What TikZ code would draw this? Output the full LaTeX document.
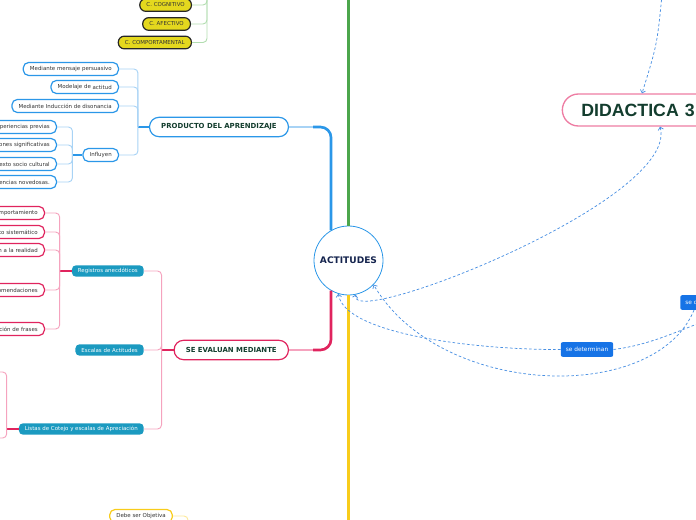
\documentclass[tikz,border=0pt]{standalone}
\usepackage{fontspec}
\setmainfont{DejaVu Sans}
\newfontfamily\didfont{Liberation Sans}
\usetikzlibrary{arrows.meta,calc}

\definecolor{brblue}{HTML}{2B97E8}
\definecolor{lnblue}{HTML}{A8D3F5}
\definecolor{brgreen}{HTML}{4CA64C}
\definecolor{lngreen}{HTML}{B2DDB0}
\definecolor{brred}{HTML}{E0245E}
\definecolor{lnred}{HTML}{F5A3BE}
\definecolor{bryellow}{HTML}{F8CC1B}
\definecolor{lnyellow}{HTML}{FDE99A}
\definecolor{ckfill}{HTML}{E4D81E}
\definecolor{regfill}{HTML}{1B9AC0}
\definecolor{relblue}{HTML}{1673E6}
\definecolor{dashblue}{HTML}{4A90E2}
\definecolor{ttlgreen}{HTML}{133D2E}
\definecolor{rootink}{HTML}{15244E}
\definecolor{leafink}{HTML}{333333}
\definecolor{didpink}{HTML}{EE7DA3}

\begin{document}
\begin{tikzpicture}[x=0.75pt,y=-0.75pt,>={Straight Barb[length=2pt,width=4pt]},
  leaf/.style={draw=brblue,line width=0.9pt,fill=white,rounded corners=4pt,
    font=\fontsize{4.1}{5}\selectfont,text=leafink,minimum height=9.75pt,
    inner xsep=5pt,inner ysep=0pt},
  cutleaf/.style={leaf,anchor=east,text width=70pt,align=right},
  redleaf/.style={cutleaf,draw=brred},
  regbox/.style={fill=regfill,text=white,rounded corners=3pt,anchor=east,
    font=\fontsize{4.1}{5}\selectfont,minimum height=8.5pt,inner xsep=4.5pt,inner ysep=0pt},
  ckbox/.style={draw=black!85,line width=0.9pt,fill=ckfill,rounded corners=4.5pt,anchor=east,
    font=\fontsize{4.1}{5}\selectfont,text=leafink,minimum height=9.5pt,inner xsep=5pt,inner ysep=0pt},
  branch/.style={draw=#1,line width=0.9pt,fill=white,rounded corners=7pt,anchor=east,
    font=\fontsize{5.2}{6}\selectfont\bfseries,text=ttlgreen,minimum height=14.5pt,
    inner xsep=8.75pt,inner ysep=0pt},
  relbox/.style={fill=relblue,text=white,rounded corners=1.5pt,
    font=\fontsize{4.4}{5.5}\selectfont,minimum height=11pt,inner xsep=3.75pt,inner ysep=0pt},
  bar/.style={line width=2pt,rounded corners=8pt},
  stub/.style={line width=1.1pt},
  twig/.style={line width=0.7pt,rounded corners=3pt},
  rel/.style={dashblue,line width=0.55pt,dash pattern=on 2pt off 1.6pt}]
\useasboundingbox (0,0) rectangle (696,520);
\clip (0,0) rectangle (696,520);

% centre and main branches
\node[circle,draw=brblue,line width=0.6pt,fill=white,minimum size=51.75pt,inner sep=0pt,
  font=\fontsize{6.8}{7}\selectfont\bfseries,text=rootink] (act) at (348.5,260.5) {ACTITUDES};
\node[branch=brblue] (prod) at (289,127) {PRODUCTO DEL APRENDIZAJE};
\node[branch=brred] (eval) at (289,350) {SE EVALUAN MEDIANTE};

\draw[stub,lnblue] (prod.east) -- ++(28,0);
\draw[bar,brblue] ($(prod.east)+(24,0)$) -| (act.120);
\draw[stub,lnred] (eval.east) -- ++(28,0);
\draw[bar,brred] ($(eval.east)+(24,0)$) -| (act.240);
\draw[bar,brgreen] (act.north) -- ++(0,-240);
\draw[bar,bryellow] (act.south) -- ++(0,240);

% green branch
\node[ckbox] (cog) at (192,5) {C. COGNITIVO};
\node[ckbox] (afe) at (191,24) {C. AFECTIVO};
\node[ckbox] (com) at (192,42.5) {C. COMPORTAMENTAL};
\coordinate (ckfork) at (207,-20);
\foreach \n in {cog,afe,com} \draw[twig,lngreen] (\n.east) -| (ckfork);

% producto del aprendizaje
\node[leaf,anchor=east] (pers) at (119,69) {Mediante mensaje persuasivo};
\node[leaf,anchor=east] (mod) at (119,87) {Modelaje de \raisebox{-0.6pt}{actitud}};
\node[leaf,anchor=east] (dis) at (119,106) {Mediante Inducción de disonancia};
\node[leaf,anchor=east] (inf) at (119,155) {Influyen};
\coordinate (prodfork) at ($(prod.west)+(-11,0)$);
\draw[stub,brblue] (prod.west) -- (prodfork);
\foreach \n in {pers,mod,dis,inf} \draw[twig,lnblue] (prodfork) |- (\n.east);

\node[cutleaf] (exp) at (57,127) {periencias previas};
\node[cutleaf] (sig) at (57,145) {ones significativas};
\node[cutleaf] (ctx) at (57,164) {exto socio cultural};
\node[cutleaf] (nov) at (57,182) {encias novedosas.};
\coordinate (inffork) at ($(inf.west)+(-10,0)$);
\draw[stub,brblue] (inf.west) -- (inffork);
\foreach \n in {exp,sig,ctx,nov} \draw[twig,lnblue] (inffork) |- (\n.east);

% se evaluan mediante
\node[regbox] (reg) at (144,271) {Registros anecdóticos};
\node[regbox] (esc) at (144,350) {Escalas de Actitudes};
\node[regbox] (lis) at (144,429) {Listas de Cotejo y escalas de Apreciación};
\coordinate (evalfork) at ($(eval.west)+(-12,0)$);
\draw[stub,brred] (eval.west) -- (evalfork);
\foreach \n in {reg,esc,lis} \draw[twig,lnred] (evalfork) |- (\n.east);

\node[redleaf] (r1) at (45,213) {mportamiento};
\node[redleaf] (r2) at (45,232) {to sistemático};
\node[redleaf] (r3) at (45,250) {n a la realidad};
\node[redleaf] (r4) at (45,290) {omendaciones};
\node[redleaf] (r5) at (45,329) {ción de frases};
\coordinate (regfork) at ($(reg.west)+(-12,0)$);
\draw[stub,brred] (reg.west) -- (regfork);
\foreach \n in {r1,r2,r3,r4,r5} \draw[twig,lnred] (regfork) |- (\n.east);

\coordinate (lisfork) at ($(lis.west)+(-12,0)$);
\coordinate (lisup) at (-10,372);
\coordinate (lisdn) at (-10,438);
\draw[stub,brred] (lis.west) -- (lisfork);
\draw[twig,lnred] (lisfork) |- (lisup);
\draw[twig,lnred] (lisfork) |- (lisdn);

% yellow branch
\node[leaf,draw=bryellow] (obj) at (141,516) {Debe ser Objetiva};
\coordinate (objdn) at (188,540);
\draw[twig,lnyellow] (obj.east) -| (objdn);

% didactica and relations
\node[draw=didpink,line width=1pt,fill=white,rounded corners=12pt,minimum height=24pt,
  inner xsep=14.25pt,inner ysep=0pt,text width=118pt,align=left,
  font=\didfont\fontsize{13.3}{14}\selectfont\bfseries,text=ttlgreen] (did) at (660,110) {DIDACTICA 3};
\node[relbox] (sdet) at (587,349.5) {se determinan};
\node[relbox,anchor=west,text width=30pt,align=left] (sed) at (680,302.5) {se d};

\coordinate (didin) at (662,-5);
\coordinate (sdetout) at (700,323);
\draw[rel,->] (didin) .. controls (657,45) .. ($(did.north)+(-18,0)$);
\draw[rel,<->] (did.south) .. controls (680,200) and (348,330) .. (act.282);
\draw[rel,->] (sdet.west) .. controls (480,350) and (345,335) .. (act.253);
\draw[rel] (sdet.east) .. controls (650,345) and (680,330) .. (sdetout);
\draw[rel,->] ($(sed.south west)+(14,0)$) .. controls (655,405) and (440,398) .. (act.316);
\end{tikzpicture}
\end{document}
